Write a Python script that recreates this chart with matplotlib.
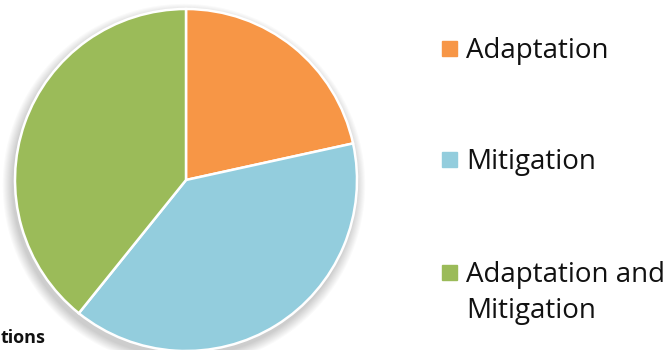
import matplotlib.pyplot as plt
from matplotlib.patches import Rectangle, Circle

categories = ["Adaptation", "Mitigation", "Adaptation and\nMitigation"]
values = [11, 20, 20]
colors = ["#F79646", "#93CDDD", "#9BBB59"]

W, H = 668, 350
fig = plt.figure(figsize=(W / 100, H / 100), dpi=100)
fig.patch.set_facecolor("white")

# pie centre (186, 180) px, radius 171 px
cx, cy, r = 186, 180, 171
ax = fig.add_axes([(cx - r) / W, (H - cy - r) / H, 2 * r / W, 2 * r / H])
ax.set_xlim(-1, 1)
ax.set_ylim(-1, 1)
ax.set_aspect("equal")
ax.axis("off")

# soft drop shadow under the pie
for i in range(10):
    s = Circle((-0.012, -0.03), 1.0 + 0.006 * (10 - i), color="black",
               alpha=0.02, lw=0, zorder=0, clip_on=False)
    ax.add_patch(s)

wedges, _ = ax.pie(values, colors=colors, startangle=90, counterclock=False,
                   radius=1.0,
                   wedgeprops=dict(edgecolor="white", linewidth=1.8))
for w in wedges:
    w.set_clip_on(False)
    w.set_zorder(2)
ax.set_xlim(-1, 1)
ax.set_ylim(-1, 1)

# legend drawn at the right: marker square + label lines (pixel baselines)
font = "Open Sans"
baselines = [58, 169, 282]
line_pitch = 36
for label, col, base in zip(categories, colors, baselines):
    fig.patches.append(Rectangle((442 / W, (H - base + 2) / H), 14.5 / W, 15 / H,
                                 transform=fig.transFigure, color=col))
    for i, line in enumerate(label.split("\n")):
        fig.text(466 / W, (H - base - i * line_pitch) / H, line, fontsize=20,
                 family=font, va="baseline", ha="left", color="#111111")

fig.text(1 / W, 3 / H, "tions", fontsize=13, fontweight="bold",
         family=font, ha="left", va="bottom", color="#111111")

fig.savefig("out.png", dpi=100)
